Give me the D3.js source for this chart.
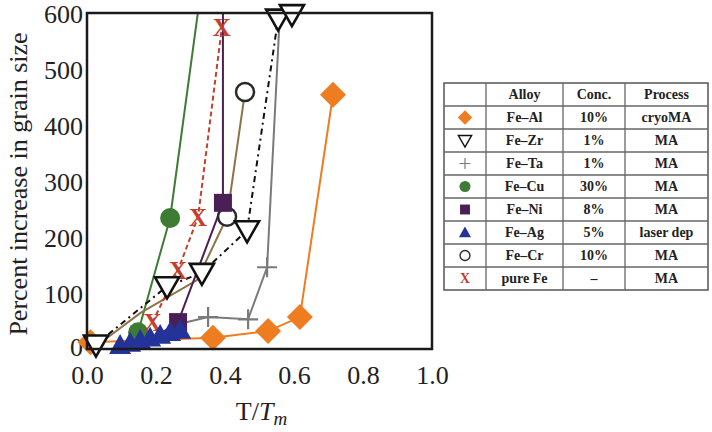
<!DOCTYPE html>
<html><head><meta charset="utf-8">
<script src="https://cdn.jsdelivr.net/npm/d3@7"></script>
<style>body{margin:0;background:#fff}svg{display:block}</style>
</head><body>
<svg id="c" width="712" height="432"></svg>
<script>
const xTicks = [0, 0.2, 0.4, 0.6, 0.8, 1.0];
const yTicks = [0, 100, 200, 300, 400, 500, 600];

const alloys = ["Fe\u2013Al","Fe\u2013Zr","Fe\u2013Ta","Fe\u2013Cu","Fe\u2013Ni","Fe\u2013Ag","Fe\u2013Cr","pure Fe"];
const concs = ["10%","1%","1%","30%","8%","5%","10%","\u2013"];
const processes = ["cryoMA","MA","MA","MA","MA","laser dep","MA","MA"];

const alT = [0.01, 0.365, 0.525, 0.617, 0.713];
const alV = [12, 20, 32, 57, 454];
const zrT = [0.026, 0.232, 0.333, 0.464, 0.554, 0.594];
const zrV = [8, 112, 136, 212, 590, 598];
const taT = [0.27, 0.351, 0.467, 0.522, 0.56];
const taV = [45, 57, 53, 146, 610];
const cuT = [0.148, 0.241, 0.33];
const cuV = [30, 234, 640];
const niT = [0.2, 0.264, 0.394, 0.394];
const niV = [22, 48, 261, 700];
const agT = [0.096, 0.125, 0.154, 0.183, 0.212, 0.241, 0.27];
const agV = [7, 11, 16, 20, 25, 30, 34];
const crT = [0.026, 0.154, 0.319, 0.406, 0.458];
const crV = [5, 64, 123, 236, 459];
const feT = [0.19, 0.264, 0.322, 0.391];
const feV = [48, 141, 236, 575];

const series = [
  {T: alT, V: alV, color: "#ee7d22", mk: "diamond", dash: null, skip: []},
  {T: taT, V: taV, color: "#7a7a7a", mk: "plus", dash: null, skip: [0]},
  {T: cuT, V: cuV, color: "#3e7b35", mk: "circle", dash: null, skip: []},
  {T: crT, V: crV, color: "#8d7348", mk: "ocircle", dash: null, skip: [0, 1, 2]},
  {T: niT, V: niV, color: "#4a1f55", mk: "square", dash: null, skip: [0]},
  {T: feT, V: feV, color: "#c2402c", mk: "x", dash: "5,3", skip: []},
  {T: agT, V: agV, color: "#23339a", mk: "triup", dash: null, skip: []},
  {T: zrT, V: zrV, color: "#111", mk: "tridown", dash: "6,4,2,4", skip: []}
];
const legendOrder = [0, 7, 1, 2, 4, 6, 3, 5];

const svg = d3.select("#c");
const L = 87, R = 432, T = 13, B = 349;
const x = d3.scaleLinear().domain([0, 1]).range([L, R]);
const y = d3.scaleLinear().domain([0, 600]).range([B, T]);
const serif = "'Liberation Serif','Times New Roman',Times,serif";

svg.append("defs").append("clipPath").attr("id", "clip")
  .append("rect").attr("x", L).attr("y", T).attr("width", R - L).attr("height", B - T);

const xAxis = d3.axisBottom(x).tickValues(xTicks).tickFormat(d3.format(".1f")).tickSize(0).tickPadding(17);
const gx = svg.append("g").attr("transform", `translate(0,${B})`).call(xAxis);
gx.select(".domain").remove();
gx.selectAll("text").attr("font-family", serif).attr("font-size", 26).attr("fill", "#222");
const yAxis = d3.axisLeft(y).tickValues(yTicks).tickFormat(d3.format("d")).tickSize(0).tickPadding(4);
const gy = svg.append("g").attr("transform", `translate(${L},0)`).call(yAxis);
gy.select(".domain").remove();
gy.selectAll("text").attr("font-family", serif).attr("font-size", 26).attr("fill", "#222")
  .attr("dy", d => d === 0 ? "0.24em" : "0.36em");

const line = d3.line().x(d => x(d[0])).y(d => y(d[1]));
const gl = svg.append("g").attr("clip-path", "url(#clip)");
series.forEach(s => {
  const pts = s.T.map((t, i) => [t, s.V[i]]);
  gl.append("path").attr("d", line(pts)).attr("fill", "none")
    .attr("stroke", s.color).attr("stroke-width", 2)
    .attr("stroke-dasharray", s.dash);
});

function marker(g, type, cx, cy, color, scale) {
  const k = scale || 1;
  if (type === "diamond") {
    const r = 13 * k;
    g.append("path").attr("d", `M${cx},${cy - r}L${cx + r},${cy}L${cx},${cy + r}L${cx - r},${cy}Z`).attr("fill", color);
  } else if (type === "plus") {
    const r = 10 * k;
    g.append("path").attr("d", `M${cx - r},${cy}H${cx + r}M${cx},${cy - r}V${cy + r}`).attr("stroke", color).attr("stroke-width", 2.2 * k);
  } else if (type === "circle") {
    g.append("circle").attr("cx", cx).attr("cy", cy).attr("r", 10 * k).attr("fill", color);
  } else if (type === "ocircle") {
    g.append("circle").attr("cx", cx).attr("cy", cy).attr("r", 9 * k).attr("fill", "#fff").attr("stroke", "#2a2a2a").attr("stroke-width", 2.5 * k);
  } else if (type === "square") {
    const r = 9 * k;
    g.append("rect").attr("x", cx - r).attr("y", cy - r).attr("width", 2 * r).attr("height", 2 * r).attr("fill", color);
  } else if (type === "triup") {
    const r = 11 * k;
    g.append("path").attr("d", `M${cx},${cy - r}L${cx + r},${cy + r * 0.8}L${cx - r},${cy + r * 0.8}Z`).attr("fill", color);
  } else if (type === "tridown") {
    const r = 12 * k;
    g.append("path").attr("d", `M${cx - r},${cy - r * 0.75}L${cx + r},${cy - r * 0.75}L${cx},${cy + r}Z`).attr("fill", "#fff").attr("stroke", "#111").attr("stroke-width", 2.6 * k);
  } else if (type === "x") {
    g.append("text").attr("x", cx).attr("y", cy).attr("text-anchor", "middle").attr("dy", "0.35em")
      .attr("font-family", serif).attr("font-weight", "bold").attr("font-size", 25 * k).attr("fill", color).text("X");
  }
}

const gm = svg.append("g");
series.forEach(s => {
  s.T.forEach((t, i) => {
    const v = s.V[i];
    if (v > 600 || t > 1 || s.skip.includes(i)) return;
    marker(gm, s.mk, x(t), y(v), s.color);
  });
});

svg.append("rect").attr("x", L).attr("y", T).attr("width", R - L).attr("height", B - T)
  .attr("fill", "none").attr("stroke", "#1a1a1a").attr("stroke-width", 2.5);

svg.append("text").attr("transform", `translate(27,${(T + B) / 2 + 3}) rotate(-90)`)
  .attr("text-anchor", "middle").attr("font-family", serif).attr("font-size", 26).attr("fill", "#222")
  .text("Percent increase in grain size");
const xt = svg.append("text").attr("x", (L + R) / 2 + 2).attr("y", 420).attr("text-anchor", "middle")
  .attr("font-family", serif).attr("font-size", 26).attr("fill", "#222");
xt.append("tspan").text("T/");
xt.append("tspan").attr("font-style", "italic").text("T");
xt.append("tspan").attr("font-style", "italic").attr("font-size", 19).attr("dy", 5).text("m");

const tx = [444, 486, 563, 625, 708];
const ty0 = 83, rh = 23;
const nRows = alloys.length + 1;
const tg = svg.append("g");
tg.append("rect").attr("x", tx[0]).attr("y", ty0).attr("width", tx[4] - tx[0]).attr("height", nRows * rh)
  .attr("fill", "#fff").attr("stroke", "#555").attr("stroke-width", 1.5);
tx.slice(1, 4).forEach(v => tg.append("line").attr("x1", v).attr("x2", v).attr("y1", ty0).attr("y2", ty0 + nRows * rh).attr("stroke", "#666").attr("stroke-width", 1.3));
d3.range(1, nRows).forEach(i => tg.append("line").attr("x1", tx[0]).attr("x2", tx[4]).attr("y1", ty0 + i * rh).attr("y2", ty0 + i * rh).attr("stroke", "#666").attr("stroke-width", 1.3));
const headers = ["Alloy", "Conc.", "Process"];
headers.forEach((h, j) => tg.append("text").attr("x", (tx[j + 1] + tx[j + 2]) / 2).attr("y", ty0 + rh / 2).attr("dy", "0.35em")
  .attr("text-anchor", "middle").attr("font-family", serif).attr("font-weight", "bold").attr("font-size", 14).attr("fill", "#222").text(h));
alloys.forEach((a, i) => {
  const cy = ty0 + (i + 1) * rh + rh / 2;
  const cols = [a, concs[i], processes[i]];
  cols.forEach((c, j) => tg.append("text").attr("x", (tx[j + 1] + tx[j + 2]) / 2).attr("y", cy).attr("dy", "0.35em")
    .attr("text-anchor", "middle").attr("font-family", serif).attr("font-weight", "bold").attr("font-size", 14).attr("fill", "#222").text(c));
  const s = series[legendOrder[i]];
  marker(tg, s.mk, (tx[0] + tx[1]) / 2, cy, s.color, 0.55);
});
</script>
</body></html>
